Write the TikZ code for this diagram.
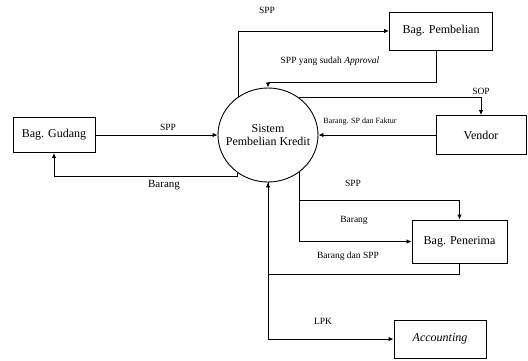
\documentclass[tikz,border=0pt]{standalone}
\usepackage{fontspec}
\setmainfont{Liberation Serif}
\usetikzlibrary{arrows.meta,shapes.geometric}

\begin{document}
\begin{tikzpicture}[x=1pt,y=-1pt,line width=0.9pt,>={Latex[length=5pt,width=4.5pt]},
  box/.style={draw,rectangle,inner sep=0pt,font=\fontsize{12}{14}\selectfont},
  lbl/.style={inner sep=0pt,font=\fontsize{9.5}{11}\selectfont}]
\useasboundingbox (0,0) rectangle (528,360);

\node[ellipse,draw,minimum width=100pt,minimum height=94pt,inner sep=0pt] (sistem) at (268,135) {};
\node[align=center,inner sep=0pt,font=\fontsize{12}{12.5}\selectfont] (sistemtxt) at (sistem.center) {Sistem\\Pembelian Kredit};

\node[box,minimum width=82pt,minimum height=35pt] (gudang) at (54,135) {Bag. Gudang};
\node[box,minimum width=103pt,minimum height=38pt] (pembelian) at (441,31) {Bag. Pembelian};
\node[box,minimum width=90pt,minimum height=39pt] (vendor) at (481,135) {Vendor};
\node[box,minimum width=95pt,minimum height=43pt] (penerima) at (459.5,241.5) {Bag. Penerima};
\node[box,minimum width=92pt,minimum height=38pt] (accounting) at (440,339) {\textit{Accounting}};

\coordinate (gb) at (54,176);
\coordinate (pa) at (436,82);
\coordinate (ps) at (459.5,200);
\coordinate (pb) at (459.5,274);

\draw[->] (gudang.east) -- (sistem.west);
\draw[->] (sistem.231.4) |- (gb) -- (gudang.south);
\draw[->] (sistem.128.6) |- (pembelian.west);
\draw[->] ([xshift=-5pt]pembelian.south) -- (pa) -| (sistem.north);
\draw[->] (sistem.50) -| (vendor.north);
\draw[->] (vendor.west) -- (sistem.east);
\draw[->] (sistem.310) |- (ps) -- (penerima.north);
\draw[->] (sistem.310) |- (penerima.west);
\draw[->] (penerima.south) -- (pb) -| (sistem.south);
\draw[->] (sistem.south) |- (accounting.west);

\node[lbl] (lspp1) at (267,10) {SPP};
\node[lbl] (lapproval) at (330,61) {SPP yang sudah \textit{Approval}};
\node[lbl] (lsop) at (481,91) {SOP};
\node[lbl,font=\fontsize{8}{10}\selectfont] (lfaktur) at (360,122) {Barang. SP dan Faktur};
\node[lbl] (lspp2) at (168,127) {SPP};
\node[lbl,font=\fontsize{11}{13}\selectfont] (lbarang1) at (164,185) {Barang};
\node[lbl] (lspp3) at (353,183) {SPP};
\node[lbl] (lbarang2) at (354,220) {Barang};
\node[lbl] (lbarangspp) at (348,256) {Barang dan SPP};
\node[lbl] (llpk) at (323,321) {LPK};
\end{tikzpicture}
\end{document}
